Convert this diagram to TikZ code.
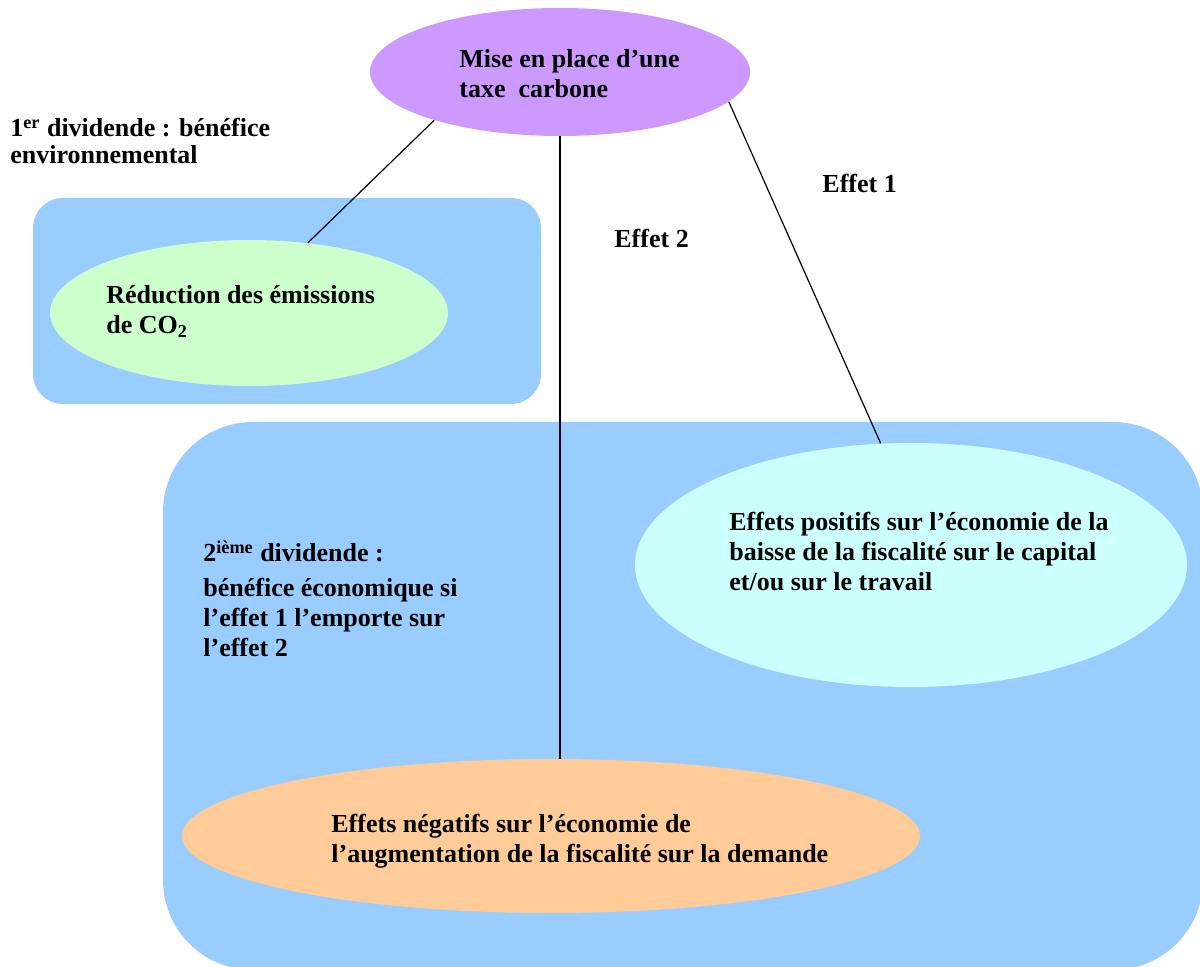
\documentclass[tikz,border=0pt]{standalone}
\usepackage{fontspec}
\setmainfont{Liberation Serif}
\usetikzlibrary{shapes.geometric}

\definecolor{mauve}{HTML}{CC99FF}
\definecolor{ciel}{HTML}{99CCFF}
\definecolor{vert}{HTML}{CCFFCC}
\definecolor{cyan}{HTML}{CCFFFF}
\definecolor{peche}{HTML}{FFCC99}

\begin{document}
\begin{tikzpicture}[x=0.5pt,y=-0.5pt,
bulle/.style={%
ellipse,
inner sep=0pt,
draw=none
},
zone/.style={%
fill=ciel,
draw=none
},
lbl/.style={%
font=\fontsize{13pt}{15pt}\selectfont\bfseries,
anchor=base west,
align=left,
inner sep=0pt
},
lien/.style={%
draw=black,
line width=0.6pt
},
]
\useasboundingbox (0,0) rectangle (1200,967);
%% Zones
\fill[zone,rounded corners=15pt] (33,198) rectangle (541,404);
\fill[zone,rounded corners=45pt] (163,422) rectangle (1203,970);
%% Bulles
\node[bulle,fill=mauve,minimum width=190pt,minimum height=64pt] (taxe) at (560,72) {};
\node[bulle,fill=vert,minimum width=199pt,minimum height=73pt] (reduc) at (249,313) {};
\node[bulle,fill=cyan,minimum width=276pt,minimum height=122pt] (pos) at (911,565) {};
\node[bulle,fill=peche,minimum width=369pt,minimum height=77pt] (neg) at (551,836) {};
%% Liens
\draw[lien] (taxe.201) -- (reduc.50);
\draw[lien] (taxe.south) -- (taxe.south |- neg.north);
\draw[lien] (taxe.-10) -- (pos.104);
%% Textes (base = last line)
\node[lbl] (ttaxe) at (459,98) {Mise en place d’une\\taxe~ carbone};
\node[lbl] (treduc) at (106,334) {Réduction des émissions\\de CO\textsubscript{2}};
\node[lbl] (tpos) at (729,591) {Effets positifs sur l’économie de la\\baisse de la fiscalité sur le capital\\et/ou sur le travail};
\node[lbl] (tneg) at (331,863) {Effets négatifs sur l’économie de\\l’augmentation de la fiscalité sur la demande};
\node[lbl] (div1) at (10,164) {1\textsuperscript{er} dividende : bénéfice\\[-1.5pt]environnemental};
\node[lbl] (div2) at (203,657) {2\textsuperscript{ième} dividende :\\[2.5pt]bénéfice économique si\\l’effet 1 l’emporte sur\\l’effet 2};
\node[lbl] (eff1) at (822,193) {Effet 1};
\node[lbl] (eff2) at (614,248) {Effet 2};
\end{tikzpicture}
\end{document}
